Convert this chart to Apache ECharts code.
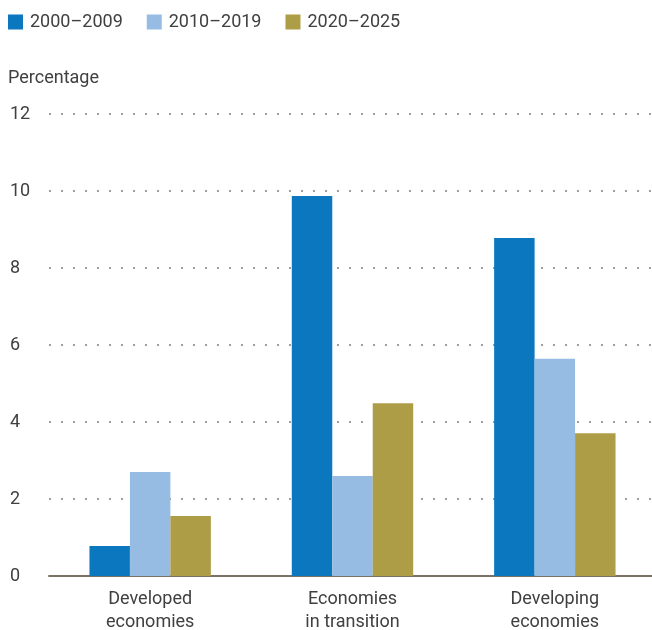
<!DOCTYPE html>
<html>
<head>
<meta charset="utf-8">
<script src="https://cdn.jsdelivr.net/npm/echarts@6/dist/echarts.min.js"></script>
<style>
  html, body { margin: 0; padding: 0; background: #fff; }
  #chart { width: 652px; height: 630px; }
</style>
</head>
<body>
<div id="chart"></div>
<script>
// Economy groups on the x axis
const categories = ['Developed\neconomies', 'Economies\nin transition', 'Developing\neconomies'];
// Period series (percentage)
const periods = ['2000–2009', '2010–2019', '2020–2025'];
const values2000s = [0.78, 9.87, 8.78];
const values2010s = [2.70, 2.60, 5.64];
const values2020s = [1.56, 4.49, 3.71];
const colors = ['#0a77bf', '#97bce3', '#ae9d47'];
const yTicks = { min: 0, max: 12, interval: 2 };

const seriesValues = [values2000s, values2010s, values2020s];
const font = 'Roboto, "Liberation Sans", sans-serif';
const textColor = '#404040';

const chart = echarts.init(document.getElementById('chart'), null, { renderer: 'canvas' });
chart.setOption({
  animation: false,
  backgroundColor: '#fff',
  legend: {
    left: 3,
    top: 8,
    itemWidth: 15,
    itemHeight: 15,
    itemGap: 24,
    icon: 'rect',
    textStyle: { fontFamily: font, fontSize: 18, color: textColor, padding: [0, 0, 0, 2] },
    data: periods
  },
  graphic: [{
    type: 'text',
    left: 8,
    top: 69,
    style: { text: 'Percentage', fontFamily: font, fontSize: 18, fill: textColor }
  }],
  grid: { left: 49, top: 114, width: 607, height: 462, outerBoundsMode: 'none', containLabel: false },
  xAxis: {
    type: 'category',
    data: categories,
    axisLine: { lineStyle: { color: '#7d7166', width: 2 } },
    axisTick: { show: false },
    axisLabel: {
      fontFamily: font, fontSize: 18, color: textColor, lineHeight: 23, margin: 12
    }
  },
  yAxis: {
    type: 'value',
    min: yTicks.min,
    max: yTicks.max,
    interval: yTicks.interval,
    axisLine: { show: false },
    axisTick: { show: false },
    axisLabel: {
      fontFamily: font, fontSize: 18, color: textColor, align: 'left', margin: 39
    },
    splitLine: {
      lineStyle: { color: '#8a7f78', width: 1.5, type: [2, 10], dashOffset: 0 }
    }
  },
  series: seriesValues.map((vals, i) => ({
    name: periods[i],
    type: 'bar',
    data: vals,
    barGap: '0%',
    barCategoryGap: '40%',
    itemStyle: { color: colors[i] }
  }))
});
</script>
</body>
</html>
